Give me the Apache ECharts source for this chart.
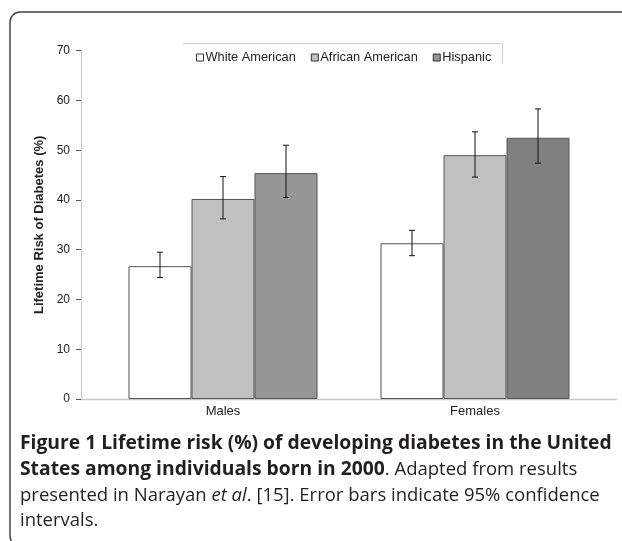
<!DOCTYPE html>
<html>
<head>
<meta charset="utf-8">
<script src="https://cdn.jsdelivr.net/npm/echarts@6/dist/echarts.min.js"></script>
<style>html,body{margin:0;padding:0;background:#fff;}#c{width:622px;height:541px;}</style>
</head>
<body>
<div id="c"></div>
<script>
var categories = ['Males', 'Females'];
var seriesNames = ['White American', 'African American', 'Hispanic'];
var whiteVals = [26.7, 31.3];
var africanVals = [40.2, 49.0];
var hispanicVals = [45.4, 52.5];
var whiteLow = [24.4, 28.8], whiteHigh = [29.5, 33.9];
var africanLow = [36.2, 44.6], africanHigh = [44.7, 53.7];
var hispanicLow = [40.5, 47.4], hispanicHigh = [51.0, 58.3];
var yTicks = [0, 10, 20, 30, 40, 50, 60, 70];

var chart = echarts.init(document.getElementById('c'));
var BW = 63;
var FONT = 'Liberation Sans, Arial, sans-serif';

function errSeries(idx, low, high) {
  return {
    type: 'custom',
    z: 10,
    silent: true,
    data: categories.map(function (c, i) { return [i, low[i], high[i]]; }),
    renderItem: function (params, api) {
      var base = api.coord([api.value(0), 0]);
      var x = base[0] + (idx - 1) * BW;
      var lo = api.coord([api.value(0), api.value(1)])[1];
      var hi = api.coord([api.value(0), api.value(2)])[1];
      var st = { stroke: '#111', lineWidth: 1 };
      return {
        type: 'group',
        children: [
          { type: 'line', shape: { x1: x, y1: lo, x2: x, y2: hi }, style: st },
          { type: 'line', shape: { x1: x - 3, y1: lo, x2: x + 3, y2: lo }, style: st },
          { type: 'line', shape: { x1: x - 3, y1: hi, x2: x + 3, y2: hi }, style: st }
        ]
      };
    }
  };
}

function barSeries(name, vals, colors) {
  return {
    name: name,
    type: 'bar',
    barWidth: BW,
    barGap: '0%',
    data: vals.map(function (v, i) {
      return { value: v, itemStyle: { color: colors[i], borderColor: '#555', borderWidth: 1 } };
    }),
    itemStyle: { color: colors[0], borderColor: '#555', borderWidth: 1 }
  };
}

var option = {
  animation: false,
  backgroundColor: '#fff',
  textStyle: { fontFamily: FONT },
  grid: { left: 97, right: 21, top: 50.7, bottom: 142 },
  legend: {
    left: 191,
    top: 46,
    itemWidth: 7,
    itemHeight: 7,
    itemGap: 15,
    icon: 'rect',
    data: seriesNames,
    textStyle: { fontSize: 12.8, color: '#222', fontFamily: FONT, padding: [0, 0, 0, -3] },
    itemStyle: { borderColor: '#333', borderWidth: 1 }
  },
  xAxis: {
    type: 'category',
    data: categories,
    axisLine: { show: false },
    axisTick: { show: false },
    axisLabel: { fontSize: 13, color: '#222', margin: 6, fontFamily: FONT }
  },
  yAxis: {
    type: 'value',
    min: 0,
    max: 70,
    interval: 10,
    offset: 16,
    name: 'Lifetime Risk of Diabetes (%)',
    nameLocation: 'middle',
    nameGap: 26,
    nameTextStyle: { fontSize: 13, fontWeight: 'bold', color: '#222', fontFamily: FONT },
    axisLine: { show: true, lineStyle: { color: '#c8c8c8', width: 1 } },
    axisTick: { show: true, length: 5, lineStyle: { color: '#555' } },
    axisLabel: { fontSize: 12, color: '#222', margin: 11, fontFamily: FONT,
      formatter: function (v) { return yTicks.indexOf(v) >= 0 ? String(v) : ''; } },
    splitLine: { show: false }
  },
  title: {
    left: 15,
    top: 426,
    text: '{b|Figure 1 Lifetime risk (%) of developing diabetes in the United}\n' +
          '{b|States among individuals born in 2000}{r|. Adapted from results}\n' +
          '{r|presented in Narayan }{i|et al}{r|. [15]. Error bars indicate 95% confidence}\n' +
          '{r|intervals.}',
    textStyle: {
      fontWeight: 'normal',
      rich: {
        b: { fontFamily: 'Open Sans', fontWeight: 'bold', fontSize: 19.3, color: '#231f20', lineHeight: 25.7 },
        r: { fontFamily: 'Open Sans', fontWeight: 'normal', fontSize: 18.5, color: '#231f20', lineHeight: 25.7 },
        i: { fontFamily: 'Open Sans', fontWeight: 'normal', fontStyle: 'italic', fontSize: 18.5, color: '#231f20', lineHeight: 25.7 }
      }
    }
  },
  graphic: [
    { type: 'rect', shape: { x: 10, y: 12, width: 700, height: 534, r: [10, 0, 0, 10] },
      style: { fill: 'none', stroke: '#444', lineWidth: 1.5 }, z: 100 },
    { type: 'polyline', shape: { points: [[183, 43.5], [502.5, 43.5], [502.5, 63]] },
      style: { fill: 'none', stroke: '#cfcfcf', lineWidth: 1 }, z: 1 },
    { type: 'line', shape: { x1: 81, y1: 399.5, x2: 617, y2: 399.5 },
      style: { stroke: '#c8c8c8', lineWidth: 1.5 }, z: 1 }
  ],
  series: [
    barSeries(seriesNames[0], whiteVals, ['#ffffff', '#ffffff']),
    barSeries(seriesNames[1], africanVals, ['#c0c0c0', '#c0c0c0']),
    barSeries(seriesNames[2], hispanicVals, ['#969696', '#808080']),
    errSeries(0, whiteLow, whiteHigh),
    errSeries(1, africanLow, africanHigh),
    errSeries(2, hispanicLow, hispanicHigh)
  ]
};
chart.setOption(option);
</script>
</body>
</html>
